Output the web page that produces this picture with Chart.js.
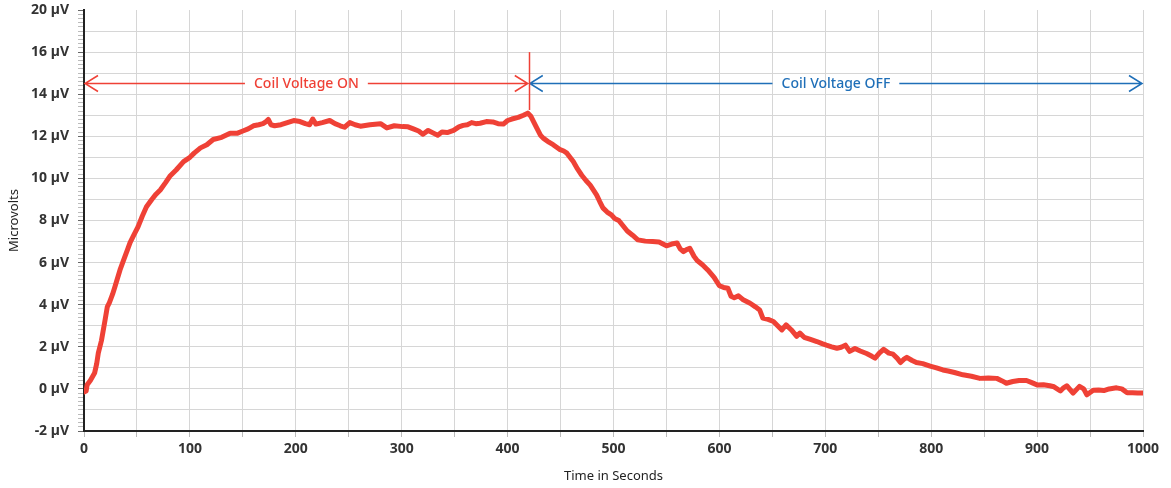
<!DOCTYPE html>
<html>
<head>
<meta charset="utf-8">
<title>Coil voltage response</title>
<script src="https://cdn.jsdelivr.net/npm/chart.js@4/dist/chart.umd.min.js"></script>
<style>
	html, body { margin: 0; padding: 0; background: #fff; }
	#wrap { width: 1171px; height: 488px; }
</style>
</head>
<body>
<div id="wrap"><canvas id="coil-chart"></canvas></div>
<script>
const timeSeconds = [
	0, 2, 3, 6, 10, 12, 13.5, 16.5, 20, 22, 24, 27, 29.5, 34, 38, 41, 43.5, 47, 51, 55,
	59, 64, 68, 72, 77, 81, 87, 94, 100, 104, 110, 116, 122, 130, 138, 145, 150, 155, 160, 165,
	169, 172, 174, 176.5, 180, 186, 192, 198, 204, 209, 213, 216, 219, 225, 232, 237, 242, 246, 251, 256,
	261, 270, 280, 286, 293, 301, 306, 311, 316, 320, 325, 330, 334, 338, 343, 349, 354, 358, 362, 366,
	370, 374, 380, 386, 391, 396, 400, 404, 410, 415, 419, 422, 427, 431, 434, 439, 443, 449, 453, 456,
	462, 466, 470, 474, 478, 484, 487, 490, 494, 498, 501, 505, 509, 513, 518, 523, 530, 537, 543, 550,
	555, 560, 563, 566, 569, 572, 576, 579, 584, 589, 595, 600, 604, 608, 611, 614, 618, 622, 629, 634,
	638, 641, 646, 651, 655, 659, 663, 668, 673, 676, 680, 686, 692, 697, 701, 706, 711, 715, 719, 723,
	728, 733, 739, 744, 747, 751, 755, 760, 764, 768, 771, 774, 777, 782, 786, 792, 799, 805, 811, 816,
	822, 830, 838, 846, 854, 862, 867, 871, 877, 883, 890, 895, 900, 906, 912, 916, 922, 925, 928, 934,
	940, 944, 947, 953, 958, 963, 968, 975, 980, 985, 990, 995, 1000
];
const microvolts = [
	-0.15, -0.1, 0.2, 0.4, 0.75, 1.2, 1.7, 2.3, 3.3, 3.9, 4.1, 4.5, 4.9, 5.65, 6.2, 6.6, 6.95, 7.3, 7.7, 8.2,
	8.65, 9.0, 9.25, 9.45, 9.8, 10.1, 10.4, 10.8, 11.0, 11.2, 11.45, 11.6, 11.85, 11.95, 12.15, 12.15, 12.25, 12.35, 12.5, 12.55,
	12.6, 12.7, 12.8, 12.55, 12.5, 12.55, 12.65, 12.75, 12.7, 12.6, 12.55, 12.82, 12.58, 12.65, 12.75, 12.6, 12.5, 12.43, 12.65, 12.55,
	12.48, 12.55, 12.6, 12.4, 12.5, 12.46, 12.45, 12.35, 12.25, 12.1, 12.28, 12.15, 12.05, 12.2, 12.18, 12.28, 12.45, 12.52, 12.55, 12.65,
	12.6, 12.62, 12.7, 12.68, 12.6, 12.58, 12.75, 12.82, 12.9, 13.0, 13.1, 12.95, 12.45, 12.05, 11.9, 11.72, 11.6, 11.38, 11.3, 11.2,
	10.8, 10.45, 10.15, 9.9, 9.68, 9.22, 8.9, 8.6, 8.4, 8.27, 8.1, 8.0, 7.75, 7.5, 7.3, 7.08, 7.02, 7.0, 6.98, 6.8,
	6.88, 6.93, 6.65, 6.52, 6.62, 6.68, 6.3, 6.1, 5.9, 5.65, 5.3, 4.9, 4.82, 4.78, 4.4, 4.33, 4.42, 4.25, 4.07, 3.9,
	3.75, 3.36, 3.3, 3.2, 3.0, 2.8, 3.04, 2.8, 2.5, 2.65, 2.45, 2.35, 2.25, 2.15, 2.08, 2.0, 1.93, 1.98, 2.08, 1.78,
	1.92, 1.8, 1.68, 1.55, 1.46, 1.7, 1.88, 1.7, 1.65, 1.45, 1.25, 1.4, 1.5, 1.35, 1.25, 1.2, 1.08, 1.0, 0.9, 0.85,
	0.78, 0.67, 0.6, 0.5, 0.52, 0.5, 0.38, 0.27, 0.35, 0.4, 0.4, 0.3, 0.19, 0.2, 0.15, 0.1, -0.1, 0.05, 0.15, -0.2,
	0.12, 0.0, -0.28, -0.06, -0.05, -0.08, 0.0, 0.05, 0.0, -0.18, -0.18, -0.2, -0.2
];

// Coil phases shown as arrows above the trace
const phaseLabels = ["Coil Voltage ON", "Coil Voltage OFF"];
const phaseStart = [0, 420];
const phaseEnd = [420, 1000];

const isNear = (v, target) => Math.abs(v - target) < 1e-6;

/**
 * Draw the ON / OFF arrows, their labels and the switch-off marker
 */
const phaseArrows = {
	id: "phaseArrows",
	afterDatasetsDraw(chart, args, opts) {
		const { ctx } = chart;
		const xs = chart.scales.x;
		const ys = chart.scales.y;
		const yArrow = Math.round(ys.getPixelForValue(opts.level)) + 0.5;

		ctx.save();
		ctx.lineWidth = 1.5;
		ctx.font = "500 14px 'Noto Sans', sans-serif";
		ctx.textBaseline = "middle";
		ctx.textAlign = "center";

		phaseLabels.forEach((label, i) => {
			const x0 = xs.getPixelForValue(phaseStart[i]);
			const x1 = xs.getPixelForValue(phaseEnd[i]);
			const mid = (x0 + x1) / 2;
			const half = ctx.measureText(label).width / 2 + 9;
			const col = opts.colors[i];
			ctx.strokeStyle = col;
			ctx.fillStyle = col;

			ctx.beginPath();
			ctx.moveTo(x0 + 1, yArrow);
			ctx.lineTo(mid - half, yArrow);
			ctx.moveTo(mid + half, yArrow);
			ctx.lineTo(x1 - 1, yArrow);
			// arrow heads, open chevrons
			ctx.moveTo(x0 + 14, yArrow - 8);
			ctx.lineTo(x0 + 1, yArrow);
			ctx.lineTo(x0 + 14, yArrow + 8);
			ctx.moveTo(x1 - 14, yArrow - 8);
			ctx.lineTo(x1 - 1, yArrow);
			ctx.lineTo(x1 - 14, yArrow + 8);
			ctx.stroke();

			ctx.fillText(label, mid, yArrow + 1);
		});

		// switch-off marker
		const xm = Math.round(xs.getPixelForValue(phaseEnd[0])) + 0.5;
		ctx.strokeStyle = opts.colors[0];
		ctx.beginPath();
		ctx.moveTo(xm, ys.getPixelForValue(opts.markerTop));
		ctx.lineTo(xm, ys.getPixelForValue(opts.markerBottom));
		ctx.stroke();
		ctx.restore();
	},
};

function drawChart() {
	const el = document.getElementById("coil-chart");
	if (!el) return;

	const points = timeSeconds.map((t, i) => ({ x: t, y: microvolts[i] }));
	const tickFont = { family: "'Noto Sans', sans-serif", size: 14, weight: "bold" };

	window.coilChart = new Chart(el, {
		type: "line",
		data: {
			datasets: [
				{
					label: "Microvolts",
					data: points,
					borderColor: "#ef4136",
					borderWidth: 5,
					pointRadius: 0,
					tension: 0,
					borderJoinStyle: "round",
					borderCapStyle: "round",
				},
			],
		},
		options: {
			responsive: true,
			maintainAspectRatio: false,
			animation: false,
			layout: { padding: { top: 0, right: 28, left: 0, bottom: 0 } },
			plugins: {
				legend: { display: false },
				tooltip: { enabled: false },
				phaseArrows: {
					level: 14.55,
					markerTop: 16,
					markerBottom: 13.25,
					colors: ["#ef4136", "#1f6fb8"],
				},
			},
			scales: {
				x: {
					type: "linear",
					min: 0,
					max: 1000,
					border: { color: "#222", width: 2 },
					grid: {
						color: "#d6d6d6",
						tickColor: "#bbb",
						tickLength: 6,
					},
					ticks: {
						stepSize: 50,
						autoSkip: false,
						maxRotation: 0,
						color: "#333",
						font: tickFont,
						padding: 4,
						callback: (v) => (isNear(v % 100, 0) ? String(v) : ""),
					},
					title: {
						display: true,
						text: "Time in Seconds",
						color: "#222",
						font: { family: "'Noto Sans', sans-serif", size: 13 },
						padding: { top: 11 },
					},
					afterFit: (s) => { s.height = 57; },
				},
				y: {
					type: "linear",
					min: -2,
					max: 18,
					border: { color: "#222", width: 2 },
					grid: {
						color: (c) => {
							const v = c.tick.value;
							if (isNear(v, 18)) return "rgba(0,0,0,0)";
							return isNear(v, Math.round(v)) ? "#d6d6d6" : "rgba(0,0,0,0)";
						},
						tickColor: (c) => {
							const v = c.tick.value;
							return isNear(v, Math.round(v)) && Math.round(v) % 2 === 0 ? "#666" : "#bbb";
						},
						tickLength: 6,
					},
					ticks: {
						stepSize: 0.2,
						autoSkip: false,
						maxTicksLimit: 200,
						color: "#333",
						font: tickFont,
						padding: 9,
						callback: (v) => {
							const r = Math.round(v);
							if (!isNear(v, r) || r % 2 !== 0) return "";
							// top tick of the original chart reads 20 µV
							return (r === 18 ? 20 : r) + " µV";
						},
					},
					title: {
						display: true,
						text: "Microvolts",
						color: "#222",
						font: { family: "'Noto Sans', sans-serif", size: 13 },
						padding: { top: 6, bottom: 2 },
					},
					afterFit: (s) => {
						s.width = 84;
						s.paddingTop = 10;
						s.paddingBottom = 0;
					},
				},
			},
		},
		plugins: [phaseArrows],
	});
}

drawChart();
</script>
</body>
</html>
